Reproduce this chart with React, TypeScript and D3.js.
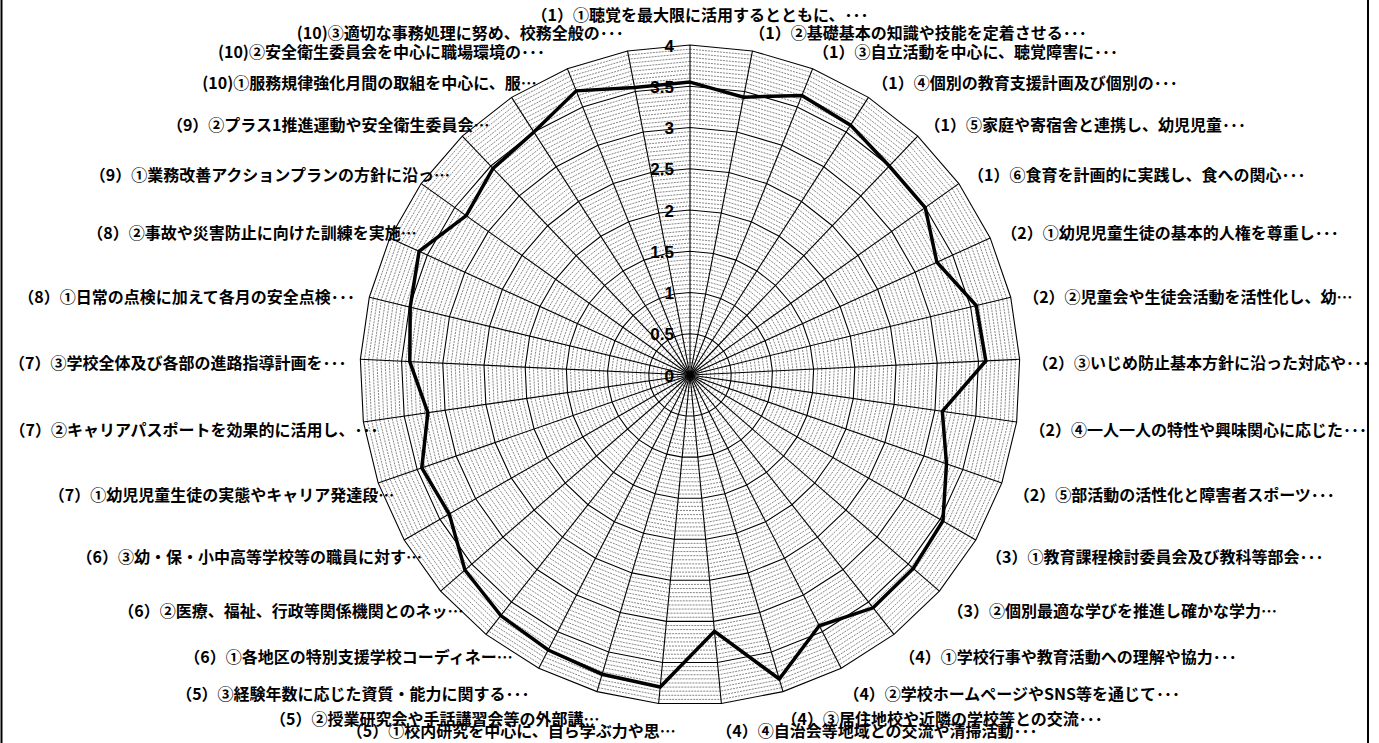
import * as d3 from 'd3';

// axis categories, clockwise from the top
const categories: string[] = [
  '（1）①聴覚を最大限に活用するとともに、･･･',
  '（1）②基礎基本の知識や技能を定着させる･･･',
  '（1）③自立活動を中心に、聴覚障害に･･･',
  '（1）④個別の教育支援計画及び個別の･･･',
  '（1）⑤家庭や寄宿舎と連携し、幼児児童･･･',
  '（1）⑥食育を計画的に実践し、食への関心･･･',
  '（2）①幼児児童生徒の基本的人権を尊重し･･･',
  '（2）②児童会や生徒会活動を活性化し、幼…',
  '（2）③いじめ防止基本方針に沿った対応や･･･',
  '（2）④一人一人の特性や興味関心に応じた･･･',
  '（2）⑤部活動の活性化と障害者スポーツ･･･',
  '（3）①教育課程検討委員会及び教科等部会･･･',
  '（3）②個別最適な学びを推進し確かな学力…',
  '（4）①学校行事や教育活動への理解や協力･･･',
  '（4）②学校ホームページやSNS等を通じて･･･',
  '（4）③居住地校や近隣の学校等との交流･･･',
  '（4）④自治会等地域との交流や清掃活動･･･',
  '（5）①校内研究を中心に、自ら学ぶ力や思…',
  '（5）②授業研究会や手話講習会等の外部講…',
  '（5）③経験年数に応じた資質・能力に関する･･･',
  '（6）①各地区の特別支援学校コーディネー…',
  '（6）②医療、福祉、行政等関係機関とのネッ…',
  '（6）③幼・保・小中高等学校等の職員に対す…',
  '（7）①幼児児童生徒の実態やキャリア発達段…',
  '（7）②キャリアパスポートを効果的に活用し、･･･',
  '（7）③学校全体及び各部の進路指導計画を･･･',
  '（8）①日常の点検に加えて各月の安全点検･･･',
  '（8）②事故や災害防止に向けた訓練を実施…',
  '（9）①業務改善アクションプランの方針に沿っ…',
  '（9）②プラス1推進運動や安全衛生委員会…',
  '(10)①服務規律強化月間の取組を中心に、服…',
  '(10)②安全衛生委員会を中心に職場環境の･･･',
  '(10)③適切な事務処理に努め、校務全般の･･･',
];

// average score per item
const scores: number[] = [
  3.55, 3.43, 3.65, 3.6, 3.5, 3.5, 3.29, 3.57, 3.59, 3.09, 3.29,
  3.54, 3.58, 3.59, 3.42, 3.84, 3.12, 3.8, 3.78, 3.75, 3.71, 3.61,
  3.37, 3.44, 3.21, 3.4, 3.49, 3.61, 3.33, 3.46, 3.5, 3.71, 3.55,
];

const tickValues: number[] = [0, 0.5, 1, 1.5, 2, 2.5, 3, 3.5, 4];
const tickLabels: string[] = ['0', '0.5', '1', '1.5', '2', '2.5', '3', '3.5', '4'];

// horizontal label shift (px) where the original placed a label closer to the plot
const labelNudge: number[] = [
  10, 0, 0, 0, 0, 0, 0, 0, 0, 0, 0, 0, 0, 0, 0, 0, 0,
  19, 8, 0, 39, 38, 35, 35, 35, 6, 5, 45, 45, 41, 36, -15, 0,
];

const width = 1379;
const height = 743;
const cx = 690;
const cy = 375;
const radius = 330;

export default function App() {
  const n = categories.length;
  const r = d3.scaleLinear().domain([0, 4]).range([0, radius]);
  const angle = (i: number) => (i * 2 * Math.PI) / n;

  const ringPath = (v: number) =>
    d3
      .lineRadial<number>()
      .angle((_, i) => angle(i))
      .radius(() => r(v))
      .curve(d3.curveLinearClosed)(d3.range(n)) || '';

  const dataPath =
    d3
      .lineRadial<number>()
      .angle((_, i) => angle(i))
      .radius((d) => r(d))
      .curve(d3.curveLinearClosed)(scores) || '';

  // minor rings every 0.05
  const minor = d3
    .range(1, 80)
    .filter((k) => k % 10 !== 0)
    .map((k) => k * 0.05);

  const labelR = radius + 20;

  return (
    <svg
      width={width}
      height={height}
      style={{ position: 'absolute', left: 0, top: 0, background: '#fff' }}
    >
      <line x1={1.5} y1={0} x2={1.5} y2={height} stroke="#000" strokeWidth={2} />
      <line x1={1368} y1={0} x2={1368} y2={height} stroke="#000" strokeWidth={2} />

      <g transform={`translate(${cx},${cy})`}>
        {/* minor grid */}
        {minor.map((v) => (
          <path
            key={'m' + v}
            d={ringPath(v)}
            fill="none"
            stroke="#777"
            strokeWidth={0.9}
            strokeDasharray="2,1"
          />
        ))}
        {/* major grid */}
        {tickValues.slice(1).map((v) => (
          <path key={'M' + v} d={ringPath(v)} fill="none" stroke="#000" strokeWidth={1.1} />
        ))}
        {/* spokes */}
        {categories.map((_, i) => (
          <line
            key={'s' + i}
            x1={0}
            y1={0}
            x2={r(4) * Math.sin(angle(i))}
            y2={-r(4) * Math.cos(angle(i))}
            stroke="#000"
            strokeWidth={1.1}
          />
        ))}

        {/* series */}
        <path d={dataPath} fill="none" stroke="#000" strokeWidth={3.5} strokeLinejoin="miter" />

        {/* value axis labels */}
        {tickValues.map((v, k) => (
          <text
            key={'t' + v}
            x={-16}
            y={-r(v) + 1}
            textAnchor="end"
            dominantBaseline="central"
            fontFamily="'Liberation Sans', Arial, sans-serif"
            fontWeight="bold"
            fontSize={17}
            fill="#000"
          >
            {tickLabels[k]}
          </text>
        ))}

        {/* category labels */}
        {categories.map((c, i) => {
          const s = Math.sin(angle(i));
          const co = Math.cos(angle(i));
          const anchor = i === 0 ? 'middle' : s > 0 ? 'start' : 'end';
          // fullwidth opening paren carries leading blank space
          const lead = anchor === 'start' && c.startsWith('（') ? -7 : 0;
          const px = labelR * s + labelNudge[i] + lead;
          const py = -labelR * co;
          const y = i === 0 ? py - 11 : py + 4 - 3 * co;
          return (
            <text
              key={'c' + i}
              x={px}
              y={y}
              textAnchor={anchor}
              dominantBaseline="central"
              fontFamily="'Noto Sans CJK JP', sans-serif"
              fontWeight="bold"
              fontSize={16}
              fill="#000"
            >
              {c}
            </text>
          );
        })}
      </g>
    </svg>
  );
}
